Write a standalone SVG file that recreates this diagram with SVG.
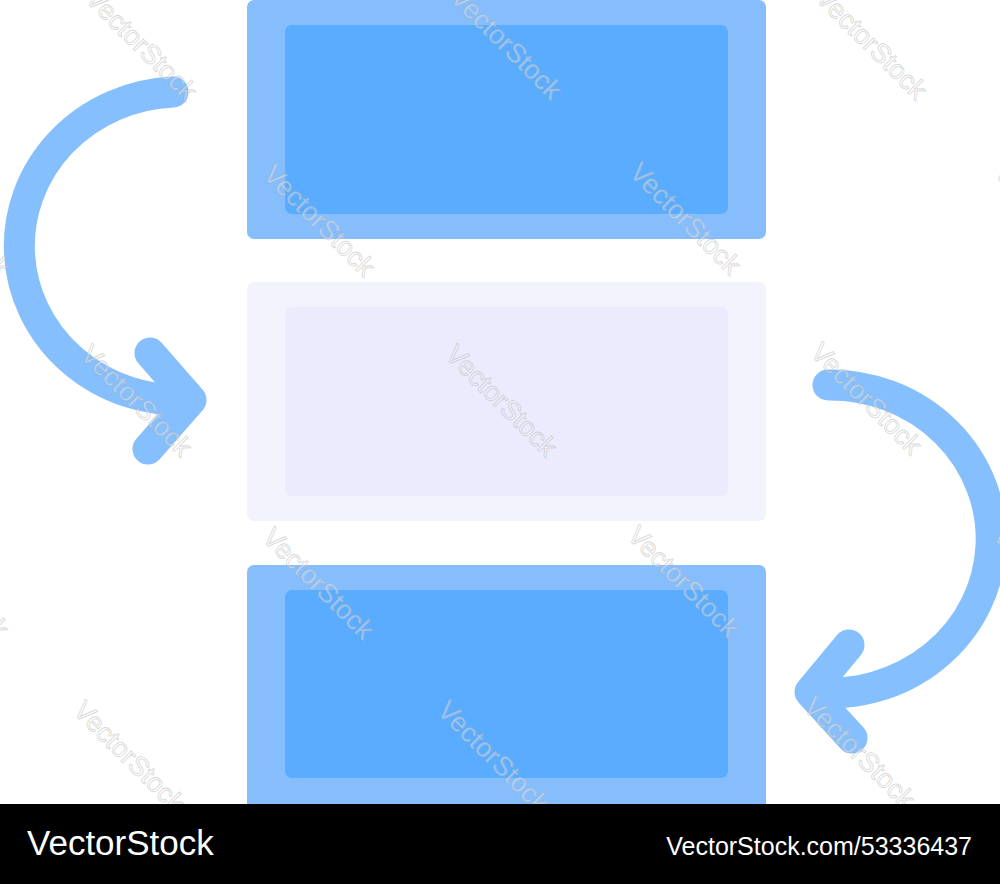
<svg xmlns="http://www.w3.org/2000/svg" width="1000" height="884" viewBox="0 0 1000 884">
  <style>
    .outer { fill: #86BEFD; }
    .inner { fill: #5AACFF; }
    .outer-l { fill: #F3F3FE; }
    .inner-l { fill: #EBEBFD; }
    .arrow { fill: none; stroke: #86BFFD; stroke-width: 31; stroke-linecap: round; stroke-linejoin: round; }
    .wm { font-family: "Liberation Sans", Arial, sans-serif; font-size: 27px; fill: #ffffff; fill-opacity: 0.35; stroke: #a8a8a8; stroke-opacity: 0.45; stroke-width: 0.9; text-anchor: middle; dominant-baseline: middle; }
    .bar { font-family: "Liberation Sans", Arial, sans-serif; fill: #ffffff; }
  </style>
  <rect width="1000" height="884" fill="#ffffff"/>
  <g id="block-top">
    <rect class="outer" x="247" y="0" width="519" height="239" rx="7"/>
    <rect class="inner" x="285" y="25" width="443" height="189" rx="7"/>
  </g>
  <g id="block-middle">
    <rect class="outer-l" x="247" y="282" width="519" height="239" rx="7"/>
    <rect class="inner-l" x="285" y="307" width="443" height="189" rx="7"/>
  </g>
  <g id="block-bottom">
    <rect class="outer" x="247" y="565" width="519" height="250" rx="7"/>
    <rect class="inner" x="285" y="590" width="443" height="188" rx="7"/>
  </g>
  <g id="connectors">
    <path class="arrow" d="M 173 92 A 161 154 0 1 0 188 400"/>
    <path class="arrow" d="M 150 353 L 191 400 L 148 449"/>
    <path class="arrow" d="M 828 385 A 161 154 0 1 1 812 692"/>
    <path class="arrow" d="M 849 645 L 810 692 L 852 738"/>
  </g>
  <g id="watermark">
    <text class="wm" transform="translate(140 46) rotate(45)">VectorStock</text>
    <text class="wm" transform="translate(505 45) rotate(45)">VectorStock</text>
    <text class="wm" transform="translate(870 45) rotate(45)">VectorStock</text>
    <text class="wm" transform="translate(-47 222) rotate(45)">VectorStock</text>
    <text class="wm" transform="translate(318 222) rotate(45)">VectorStock</text>
    <text class="wm" transform="translate(684 220) rotate(45)">VectorStock</text>
    <text class="wm" transform="translate(1049 220) rotate(45)">VectorStock</text>
    <text class="wm" transform="translate(135 402) rotate(45)">VectorStock</text>
    <text class="wm" transform="translate(500 402) rotate(45)">VectorStock</text>
    <text class="wm" transform="translate(865 400) rotate(45)">VectorStock</text>
    <text class="wm" transform="translate(-48 584) rotate(45)">VectorStock</text>
    <text class="wm" transform="translate(317 585) rotate(45)">VectorStock</text>
    <text class="wm" transform="translate(682 583) rotate(45)">VectorStock</text>
    <text class="wm" transform="translate(1047 583) rotate(45)">VectorStock</text>
    <text class="wm" transform="translate(128 758) rotate(45)">VectorStock</text>
    <text class="wm" transform="translate(492 758) rotate(45)">VectorStock</text>
    <text class="wm" transform="translate(858 754) rotate(45)">VectorStock</text>
  </g>
  <g id="footer">
    <rect x="0" y="804" width="1000" height="80" fill="#000000"/>
    <text class="bar" x="27" y="855" font-size="35">VectorStock</text>
    <text class="bar" x="972" y="855" font-size="25" text-anchor="end">VectorStock.com/53336437</text>
  </g>
</svg>
